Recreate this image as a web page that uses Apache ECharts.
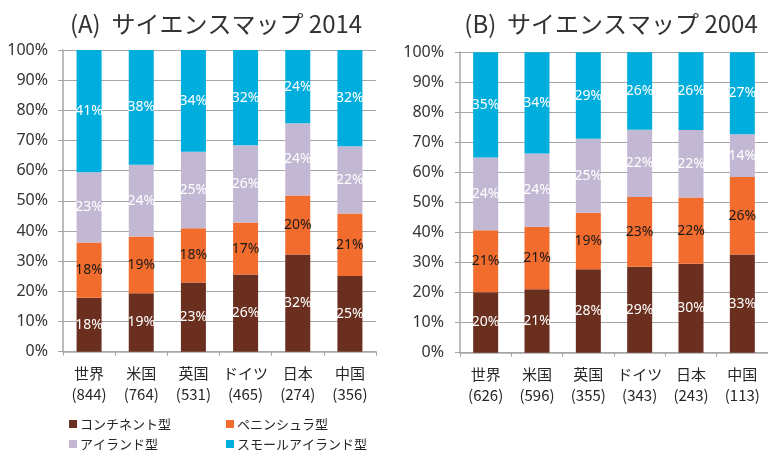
<!DOCTYPE html>
<html>
<head>
<meta charset="utf-8">
<script src="https://cdn.jsdelivr.net/npm/echarts@6/dist/echarts.min.js"></script>
<style>
html,body{margin:0;padding:0;background:#fff;}
#chart{width:768px;height:453px;}
</style>
</head>
<body>
<div id="chart"></div>
<script>
const categories = ['世界', '米国', '英国', 'ドイツ', '日本', '中国'];
const counts2014 = [844, 764, 531, 465, 274, 356];
const counts2004 = [626, 596, 355, 343, 243, 113];
const seriesNames = ['コンチネント型', 'ペニンシュラ型', 'アイランド型', 'スモールアイランド型'];
const titles = ['(A)  サイエンスマップ 2014', '(B)  サイエンスマップ 2004'];
const yTicks = [0, 10, 20, 30, 40, 50, 60, 70, 80, 90, 100];

const continent2014 = [17.9, 19.4, 22.9, 25.6, 32.2, 25.1];
const peninsula2014 = [18.3, 18.8, 18.0, 17.2, 19.6, 20.7];
const island2014 = [23.3, 23.8, 25.4, 25.6, 23.9, 22.3];
const small2014 = [40.5, 38.0, 33.7, 31.6, 24.3, 31.9];

const continent2004 = [20.1, 21.1, 27.8, 28.6, 29.6, 32.7];
const peninsula2004 = [20.7, 20.8, 18.8, 23.2, 22.1, 25.8];
const island2004 = [24.2, 24.4, 24.6, 22.4, 22.4, 14.2];
const small2004 = [35.0, 33.7, 28.8, 25.8, 25.9, 27.3];

const colors = ['#6A2F1F', '#F26C2D', '#C3B8D3', '#00AEDD'];
const labelColors = ['#ffffff', '#1a1a1a', '#ffffff', '#ffffff'];
const gray = '#A6A6A6';

const data2014 = [continent2014, peninsula2014, island2014, small2014];
const data2004 = [continent2004, peninsula2004, island2004, small2004];

function xAxis(gridIndex, counts) {
  return {
    type: 'category', gridIndex: gridIndex, data: categories,
    axisLine: {lineStyle: {color: gray, width: 1.5}},
    axisTick: {show: true, length: 4, lineStyle: {color: gray}},
    axisLabel: {
      margin: 11, interval: 0,
      formatter: function (v, i) { return '{a|' + v + '}\n{b|(' + counts[i] + ')}'; },
      rich: {
        a: {fontFamily: 'Noto Sans CJK JP', fontSize: 15, lineHeight: 21, color: '#262626'},
        b: {fontFamily: 'Noto Sans CJK JP', fontSize: 15, lineHeight: 21, color: '#262626'}
      }
    }
  };
}
function yAxis(gridIndex, margin) {
  return {
    type: 'value', gridIndex: gridIndex, min: yTicks[0], max: yTicks[yTicks.length - 1], interval: 10,
    axisLine: {show: true, lineStyle: {color: gray, width: 1.5}},
    axisTick: {show: true, length: 5, lineStyle: {color: gray}},
    splitLine: {show: true, lineStyle: {color: gray, width: 1}},
    axisLabel: {margin: margin, formatter: '{value}%', fontFamily: 'Noto Sans', fontSize: 16, color: '#333'}
  };
}
function makeSeries(dataSet, idx) {
  return dataSet.map(function (vals, k) {
    return {
      name: seriesNames[k], type: 'bar', stack: 's' + idx,
      xAxisIndex: idx, yAxisIndex: idx, barWidth: 25,
      data: vals,
      itemStyle: {color: colors[k]},
      label: {
        show: true, position: 'inside', color: labelColors[k],
        fontFamily: 'Noto Sans', fontSize: 14,
        formatter: function (p) { return Math.round(p.value) + '%'; }
      }
    };
  });
}
function legend(names, left) {
  return {
    data: names, orient: 'vertical', left: left, top: 417, height: 40, padding: 0,
    icon: 'rect', itemWidth: 8, itemHeight: 8, itemGap: 6,
    textStyle: {fontFamily: 'Noto Sans CJK JP', fontSize: 13, lineHeight: 14, color: '#262626', padding: [0, 0, 0, -2]}
  };
}

const chart = echarts.init(document.getElementById('chart'), null, {renderer: 'canvas'});
chart.setOption({
  animation: false,
  backgroundColor: '#fff',
  title: [
    {text: titles[0], left: 211, top: 7, textAlign: 'center',
     textStyle: {fontFamily: 'Noto Sans CJK JP', fontSize: 24, fontWeight: 'normal', color: '#333'}},
    {text: titles[1], left: 606, top: 7, textAlign: 'center',
     textStyle: {fontFamily: 'Noto Sans CJK JP', fontSize: 24, fontWeight: 'normal', color: '#333'}}
  ],
  legend: [legend([seriesNames[0], seriesNames[2]], 69), legend([seriesNames[1], seriesNames[3]], 226)],
  grid: [
    {left: 63, right: 392, top: 50, bottom: 101.3},
    {left: 460, right: -3.4, top: 52.3, bottom: 100.3}
  ],
  xAxis: [xAxis(0, counts2014), xAxis(1, counts2004)],
  yAxis: [yAxis(0, 15), yAxis(1, 16)],
  series: makeSeries(data2014, 0).concat(makeSeries(data2004, 1))
});
</script>
</body>
</html>
